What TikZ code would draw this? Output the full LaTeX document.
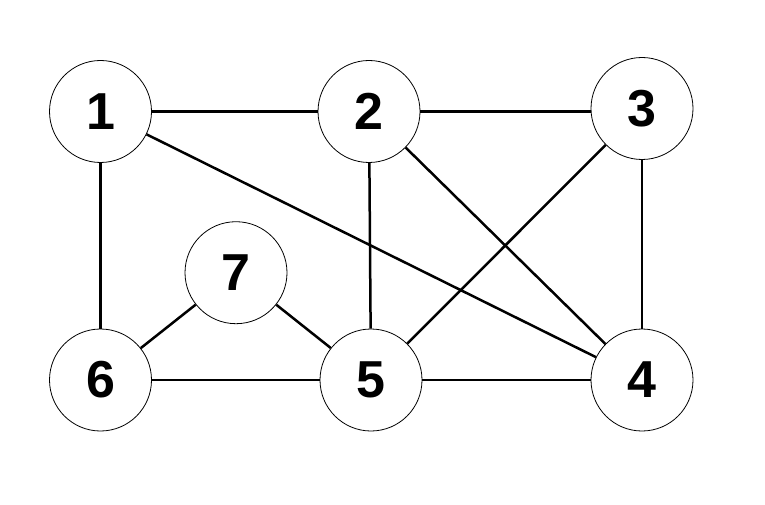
\documentclass[tikz,border=0pt]{standalone}
\usepackage{fontspec}
\setmainfont{Liberation Sans}
\begin{document}
\begin{tikzpicture}[x=1pt,y=-1pt,
  vtx/.style={circle,draw,line width=0.8pt,minimum size=102pt,inner sep=0pt,font=\fontsize{52}{52}\selectfont\bfseries},
  edge/.style={line width=2.5pt}]
\useasboundingbox (0,0) rectangle (765,505);
\node[vtx] (n1) at (100.5,111.5) {1};
\node[vtx] (n2) at (369,111.5) {2};
\node[vtx] (n3) at (642,108.5) {3};
\node[vtx] (n4) at (642,380) {4};
\node[vtx] (n5) at (371,380) {5};
\node[vtx] (n6) at (100.5,380) {6};
\node[vtx] (n7) at (236,272.7) {7};
\draw[edge] (n1) -- (n2);
\draw[edge] (n2.east) -- (n3.west |- n2);
\draw[edge] (n1) -- (n6);
\draw[edge] (n1) -- (n4);
\draw[edge] (n2) -- (n5);
\draw[edge] (n2) -- (n4);
\draw[edge] (n3) -- (n5);
\draw[edge] (n3) -- (n4);
\draw[edge] (n6) -- (n5);
\draw[edge] (n5) -- (n4);
\draw[edge] (n7) -- (n6);
\draw[edge] (n7) -- (n5);
\end{tikzpicture}
\end{document}
